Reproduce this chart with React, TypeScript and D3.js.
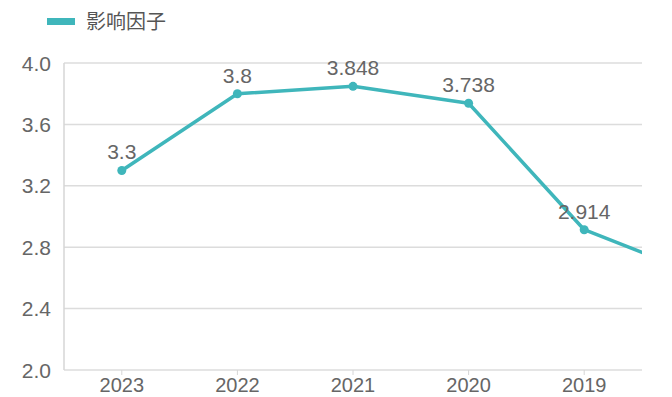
import * as d3 from 'd3';
import React, { useEffect, useRef } from 'react';

const years = ['2023', '2022', '2021', '2020', '2019', '2018'];
const impact = [3.3, 3.8, 3.848, 3.738, 2.914, 2.62];
const labels = ['3.3', '3.8', '3.848', '3.738', '2.914', ''];
const yTicks = [2.0, 2.4, 2.8, 3.2, 3.6, 4.0];
const seriesName = '影响因子';

const W = 672;
const H = 397;
const COLOR = '#3fb6bb';
const FONT = '"Liberation Sans", Arial, "Noto Sans CJK SC", sans-serif';

const App = () => {
  const svgRef = useRef<SVGSVGElement>(null);

  useEffect(() => {
    const margin = { top: 63, right: 30, bottom: 27, left: 64 };
    const width = W - margin.left - margin.right;
    const height = H - margin.top - margin.bottom;

    const root = d3.select(svgRef.current);
    root.selectAll('*').remove();
    root.attr('width', W).attr('height', H).style('font-family', FONT);

    // legend
    const legend = root.append('g').attr('transform', 'translate(47, 21.5)');
    legend.append('rect').attr('x', 0).attr('y', -3.5).attr('width', 28).attr('height', 7).attr('fill', COLOR);
    legend
      .append('text')
      .attr('x', 39)
      .attr('y', 7)
      .attr('font-size', 20)
      .attr('fill', '#555')
      .text(seriesName);

    const svg = root.append('g').attr('transform', `translate(${margin.left}, ${margin.top})`);

    // first five categories fill the plot, the sixth sits past the right edge
    const x = d3.scaleBand<string>().domain(years.slice(0, 5)).range([0, width]);
    const xPos = (i: number) => x.step() * (i + 0.5);

    const y = d3.scaleLinear().domain([2, 4]).range([height, 0]);

    // grid
    svg
      .append('g')
      .selectAll('line')
      .data(yTicks)
      .join('line')
      .attr('x1', 0)
      .attr('x2', width)
      .attr('y1', (d) => y(d))
      .attr('y2', (d) => y(d))
      .attr('stroke', '#dcdcdc')
      .attr('stroke-width', 1.5);

    // left axis
    svg.append('line').attr('x1', 0).attr('x2', 0).attr('y1', 0).attr('y2', height).attr('stroke', '#d6d6d6').attr('stroke-width', 1.5);

    svg
      .append('g')
      .selectAll('text')
      .data(yTicks)
      .join('text')
      .attr('x', -13)
      .attr('y', (d) => y(d))
      .attr('dy', '0.36em')
      .attr('text-anchor', 'end')
      .attr('font-size', 21)
      .attr('fill', '#666')
      .text((d) => d.toFixed(1));

    // x axis ticks + labels
    const xa = svg.append('g').attr('transform', `translate(0, ${height})`);
    xa.selectAll('line')
      .data(years.slice(0, 5))
      .join('line')
      .attr('x1', (_, i) => xPos(i))
      .attr('x2', (_, i) => xPos(i))
      .attr('y1', 0)
      .attr('y2', 5)
      .attr('stroke', '#d6d6d6');
    xa.selectAll('text')
      .data(years.slice(0, 5))
      .join('text')
      .attr('x', (_, i) => xPos(i))
      .attr('y', 22)
      .attr('text-anchor', 'middle')
      .attr('font-size', 20)
      .attr('fill', '#666')
      .text((d) => d);

    // clipped line
    root
      .append('defs')
      .append('clipPath')
      .attr('id', 'plot-clip')
      .append('rect')
      .attr('x', -2)
      .attr('y', -40)
      .attr('width', width + 2)
      .attr('height', height + 80);

    const plot = svg.append('g').attr('clip-path', 'url(#plot-clip)');

    const line = d3
      .line<number>()
      .x((_, i) => xPos(i))
      .y((d) => y(d));

    plot
      .append('path')
      .datum(impact)
      .attr('d', line)
      .attr('fill', 'none')
      .attr('stroke', COLOR)
      .attr('stroke-width', 3.5)
      .attr('stroke-linejoin', 'round');

    plot
      .selectAll('circle')
      .data(impact.slice(0, 5))
      .join('circle')
      .attr('cx', (_, i) => xPos(i))
      .attr('cy', (d) => y(d))
      .attr('r', 4.5)
      .attr('fill', COLOR);

    svg
      .append('g')
      .selectAll('text')
      .data(impact.slice(0, 5))
      .join('text')
      .attr('x', (_, i) => xPos(i))
      .attr('y', (d) => y(d) - 11)
      .attr('text-anchor', 'middle')
      .attr('font-size', 21)
      .attr('fill', '#666')
      .text((_, i) => labels[i]);
  }, []);

  return <svg ref={svgRef} style={{ position: 'absolute', left: 0, top: 0 }} />;
};

export default App;
